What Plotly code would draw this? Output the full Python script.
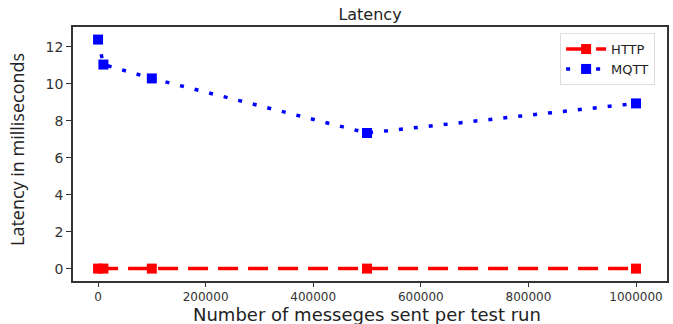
import plotly.graph_objects as go

messages = [100, 10000, 100000, 500000, 1000000]
http_latency = [0.02, 0.02, 0.02, 0.02, 0.02]
mqtt_latency = [12.4, 11.05, 10.3, 7.35, 8.95]
x_ticks = [0, 200000, 400000, 600000, 800000, 1000000]
y_ticks = [0, 2, 4, 6, 8, 10, 12]

fig = go.Figure()
fig.add_trace(go.Scatter(
    x=messages, y=http_latency, name="HTTP", mode="lines+markers",
    line=dict(color="#ff0000", width=3.5, dash="20px,10px"),
    marker=dict(symbol="square", size=10, color="#ff0000")))
fig.add_trace(go.Scatter(
    x=messages, y=mqtt_latency, name="MQTT", mode="lines+markers",
    line=dict(color="#0000ff", width=3.5, dash="4px,11px"),
    marker=dict(symbol="square", size=10, color="#0000ff")))

L, R, T, B = 73, 6, 27, 43
W, H = 673, 324
font_family = "DejaVu Sans"
fig.update_layout(
    width=W, height=H,
    margin=dict(l=L, r=R, t=T, b=B, autoexpand=False),
    paper_bgcolor="white", plot_bgcolor="white",
    font=dict(family=font_family, color="#333333", size=13),
    title=dict(text="Latency", x=(L + W - R) / 2 / W, xanchor="center",
               y=1 - 14 / H, yanchor="middle", font=dict(size=16, color="#222222"),
               automargin=False),
    showlegend=True,
    legend=dict(x=0.98, y=0.976, xanchor="right", yanchor="top",
                bgcolor="white", bordercolor="#dddddd", borderwidth=1,
                font=dict(size=13, color="#222222"), itemwidth=40,
                tracegroupgap=0),
    xaxis=dict(range=[-46500, 1057600], tickvals=x_ticks,
               ticktext=[str(v) for v in x_ticks], automargin=False,
               showgrid=False, zeroline=False, showline=True, mirror=True,
               linecolor="#333333", linewidth=1.5, ticks="outside", ticklen=4,
               tickcolor="#333333", tickfont=dict(size=12)),
    yaxis=dict(range=[-0.65, 13.08], tickvals=y_ticks, automargin=False,
               showgrid=False, zeroline=False, showline=True, mirror=True,
               linecolor="#333333", linewidth=1.5, ticks="outside", ticklen=5,
               tickcolor="#333333", tickfont=dict(size=14)),
    annotations=[
        dict(text="Number of messeges sent per test run", xref="paper", yref="paper",
             x=(367 - L) / (W - L - R), y=-(314 - (H - B)) / (H - T - B),
             xanchor="center", yanchor="middle", showarrow=False,
             font=dict(size=18, color="#222222", family=font_family)),
        dict(text="Latency in milliseconds", xref="paper", yref="paper",
             x=-(L - 17) / (W - L - R), y=((H - B) - 150) / (H - T - B),
             xanchor="center", yanchor="middle", showarrow=False, textangle=-90,
             font=dict(size=18, color="#222222", family="Open Sans")),
    ],
)
fig.write_html("out.html", config={"displayModeBar": False},
               post_script="document.body.style.margin='0';document.body.style.padding='0';document.body.style.overflow='hidden';")
